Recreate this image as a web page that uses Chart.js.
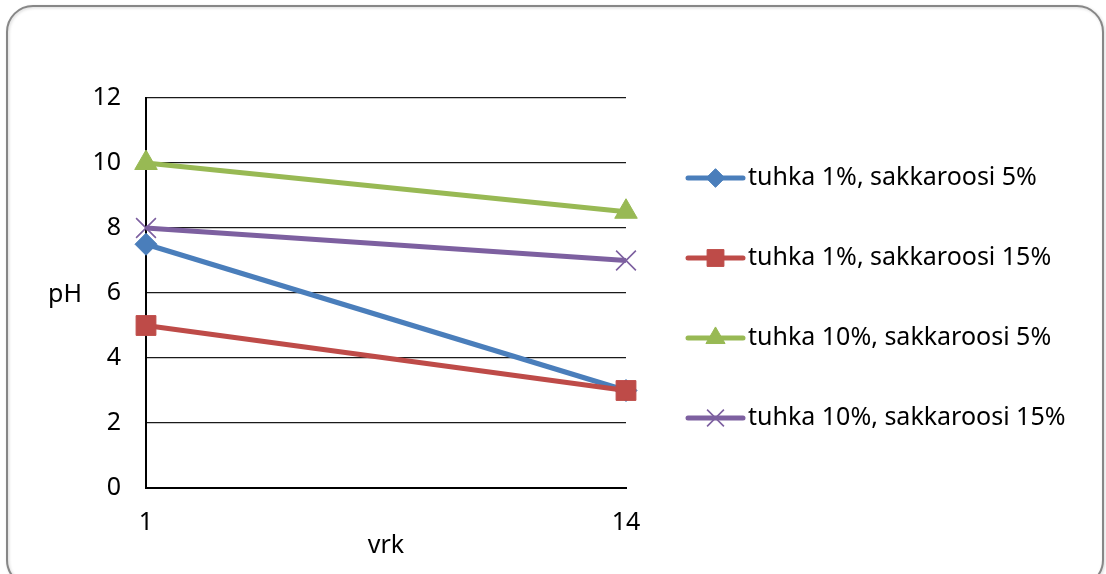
<!DOCTYPE html>
<html>
<head>
<meta charset="utf-8">
<title>pH</title>
<script src="https://cdn.jsdelivr.net/npm/chart.js@4/dist/chart.umd.min.js"></script>
<style>
  html, body { margin: 0; padding: 0; background: #fff; }
  #wrap { position: relative; width: 1106px; height: 574px; }
  canvas { display: block; }
</style>
</head>
<body>
<div id="wrap"><canvas id="c" width="1106" height="574"></canvas></div>
<script>
// Measurement days (category axis)
const days = ['1', '14'];

// pH per treatment
const ash1Suc5 = [7.5, 3];
const ash1Suc15 = [5, 3];
const ash10Suc5 = [10, 8.5];
const ash10Suc15 = [8, 7];

// Series names
const seriesNames = [
  'tuhka 1%, sakkaroosi 5%',
  'tuhka 1%, sakkaroosi 15%',
  'tuhka 10%, sakkaroosi 5%',
  'tuhka 10%, sakkaroosi 15%'
];

const yAxisTitle = 'pH';
const xAxisTitle = 'vrk';

const FONT = '"Noto Sans", "Open Sans", sans-serif';
const FS = 25;

const series = [
  { data: ash1Suc5,  color: '#4A7EBB', style: 'rectRot',  radius: 11, pbw: 1, order: 3 },
  { data: ash1Suc15, color: '#BE4B48', style: 'rect',     radius: 14, pbw: 1, order: 2 },
  { data: ash10Suc5, color: '#98B954', style: 'triangle', radius: 13, pbw: 1, order: 1 },
  { data: ash10Suc15, color: '#7D60A0', style: 'crossRot', radius: 14, pbw: 1.6, order: 0 }
];

const datasets = series.map((s, i) => ({
  label: seriesNames[i],
  data: s.data,
  borderColor: s.color,
  backgroundColor: s.color,
  borderWidth: 5,
  pointStyle: s.style,
  pointRadius: s.radius,
  pointHoverRadius: s.radius,
  pointBorderWidth: s.pbw,
  pointBorderColor: s.color,
  pointBackgroundColor: s.color,
  tension: 0,
  order: s.order
}));

// Rounded frame around the whole chart
const framePlugin = {
  id: 'frame',
  beforeDraw(chart) {
    const ctx = chart.ctx;
    ctx.save();
    ctx.fillStyle = '#fff';
    ctx.fillRect(0, 0, chart.width, chart.height);
    ctx.shadowColor = 'rgba(0,0,0,0.18)';
    ctx.shadowBlur = 3;
    ctx.shadowOffsetX = 1;
    ctx.shadowOffsetY = 1;
    ctx.strokeStyle = '#878787';
    ctx.lineWidth = 2;
    ctx.beginPath();
    ctx.roundRect(7, 6, 1096, 580, 26);
    ctx.stroke();
    ctx.restore();
  }
};

// Horizontal y-axis title and right-hand legend with line + marker swatches
const sidePlugin = {
  id: 'side',
  afterDraw(chart) {
    const ctx = chart.ctx;
    ctx.save();
    ctx.fillStyle = '#000';
    ctx.font = FS + 'px ' + FONT;
    ctx.textAlign = 'center';
    ctx.textBaseline = 'middle';
    ctx.fillText(yAxisTitle, 65, 295);

    const x0 = 688, x1 = 743, tx = 748, top = 178, step = 80;
    chart.data.datasets.forEach((ds, i) => {
      const y = top + i * step;
      ctx.strokeStyle = ds.borderColor;
      ctx.lineWidth = 5;
      ctx.lineCap = 'round';
      ctx.beginPath();
      ctx.moveTo(x0, y);
      ctx.lineTo(x1, y);
      ctx.stroke();
      ctx.lineCap = 'butt';
      ctx.fillStyle = ds.pointBackgroundColor;
      ctx.strokeStyle = ds.pointBorderColor;
      ctx.lineWidth = ds.pointBorderWidth;
      Chart.helpers.drawPoint(ctx, {
        pointStyle: ds.pointStyle,
        radius: ds.pointRadius * 0.85,
        rotation: 0,
        borderWidth: ds.pointBorderWidth
      }, (x0 + x1) / 2, y);
      ctx.fillStyle = '#000';
      ctx.textAlign = 'left';
      ctx.textBaseline = 'middle';
      ctx.fillText(ds.label, tx, y);
    });
    ctx.restore();
  }
};

new Chart(document.getElementById('c'), {
  type: 'line',
  data: { labels: days, datasets },
  plugins: [framePlugin, sidePlugin],
  options: {
    responsive: false,
    animation: false,
    devicePixelRatio: 1,
    layout: { padding: { left: 0, top: 98, right: 480, bottom: 0 } },
    plugins: { legend: { display: false }, tooltip: { enabled: false } },
    scales: {
      x: {
        type: 'category',
        offset: false,
        afterFit(scale) { scale.height = 86; },
        grid: { display: false, drawTicks: false },
        border: { display: true, color: '#000', width: 2 },
        ticks: { color: '#000', font: { family: FONT, size: FS }, padding: 20 },
        title: { display: true, text: xAxisTitle, color: '#000', font: { family: FONT, size: FS }, padding: { top: 0, bottom: 13 } }
      },
      y: {
        min: 0,
        max: 12,
        afterFit(scale) { scale.width = 146; },
        grid: { color: '#1a1a1a', lineWidth: 1.3, drawTicks: false },
        border: { display: true, color: '#000', width: 2 },
        ticks: { stepSize: 2, color: '#000', font: { family: FONT, size: FS }, padding: 25 }
      }
    }
  }
});
</script>
</body>
</html>
